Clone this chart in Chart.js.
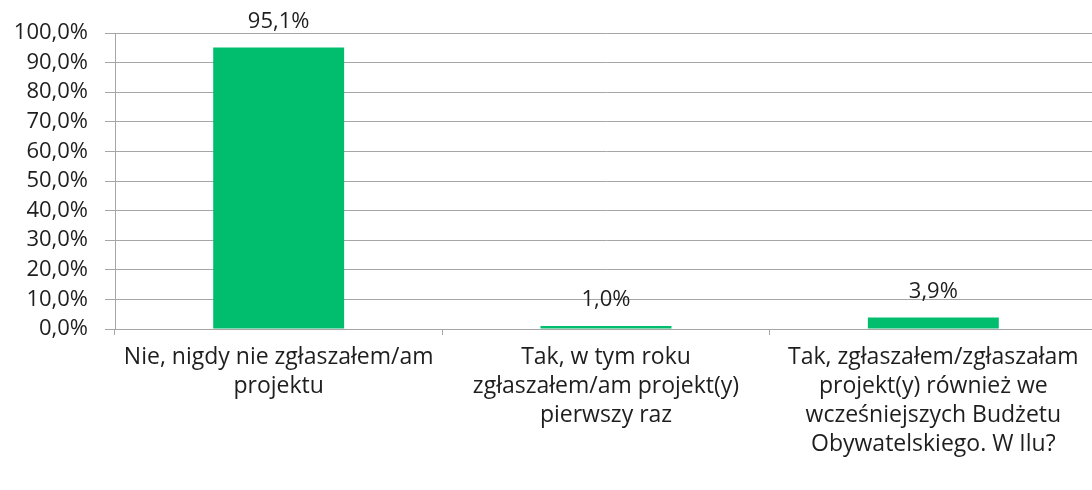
<!DOCTYPE html>
<html>
<head>
<meta charset="utf-8">
<script src="https://cdn.jsdelivr.net/npm/chart.js@4"></script>
<style>
html,body{margin:0;padding:0;background:#fff;overflow:hidden;width:1092px;height:490px;}
#wrap{width:1097px;height:490px;}
</style>
</head>
<body>
<div id="wrap"><canvas id="c" width="1097" height="490"></canvas></div>
<script>
const categories = [
  ["Nie, nigdy nie zgłaszałem/am", "projektu"],
  ["Tak, w tym roku", "zgłaszałem/am projekt(y)", "pierwszy raz"],
  ["Tak, zgłaszałem/zgłaszałam", "projekt(y) również we", "wcześniejszych Budżetu", "Obywatelskiego. W Ilu?"]
];
const values = [95.1, 1.0, 3.9];
const yTicks = [0, 10, 20, 30, 40, 50, 60, 70, 80, 90, 100];

const fmt = v => v.toFixed(1).replace('.', ',') + '%';
const FONT = "'Open Sans', 'Liberation Sans', sans-serif";
const TXT = '#1e1e1e';
const GRID = '#a6a6a6';

const labelPlugin = {
  id: 'valueLabels',
  afterDatasetsDraw(chart) {
    const ctx = chart.ctx;
    const meta = chart.getDatasetMeta(0);
    ctx.save();
    ctx.font = '22px ' + FONT;
    ctx.fillStyle = TXT;
    ctx.textAlign = 'center';
    ctx.textBaseline = 'middle';
    meta.data.forEach((bar, i) => {
      ctx.fillText(fmt(values[i]), bar.x, bar.y - 26);
    });
    ctx.restore();
  }
};

new Chart(document.getElementById('c'), {
  type: 'bar',
  data: {
    labels: categories,
    datasets: [{
      data: values,
      backgroundColor: '#00BE6E',
      borderWidth: 0,
      categoryPercentage: 1,
      barPercentage: 0.4
    }]
  },
  options: {
    responsive: false,
    animation: false,
    devicePixelRatio: 1,
    layout: { padding: { top: 33, left: 0, right: 0, bottom: 0 } },
    plugins: { legend: { display: false }, tooltip: { enabled: false } },
    scales: {
      x: {
        offset: true,
        grid: { display: true, drawOnChartArea: false, drawTicks: true, tickLength: 6, color: GRID, offset: true },
        border: { display: true, color: GRID },
        ticks: { color: TXT, font: { family: FONT, size: 23, lineHeight: 1.26 }, padding: 8, maxRotation: 0, autoSkip: false },
        afterFit(s) { s.height = 490 - 329; }
      },
      y: {
        min: 0, max: 100,
        afterBuildTicks(s) { s.ticks = yTicks.map(v => ({ value: v })); },
        grid: { color: GRID, tickLength: 10, drawTicks: true },
        border: { display: true, color: GRID },
        ticks: { color: TXT, font: { family: FONT, size: 22 }, padding: 17, callback: v => fmt(v) },
        afterFit(s) { s.width = 115; }
      }
    }
  },
  plugins: [labelPlugin]
});
</script>
</body>
</html>
